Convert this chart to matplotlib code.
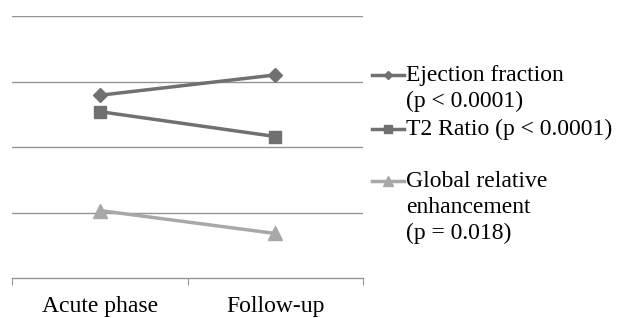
import matplotlib
matplotlib.use("Agg")
import matplotlib.pyplot as plt
from matplotlib.lines import Line2D

categories = ["Acute phase", "Follow-up"]
ef = [2.79, 3.10]
t2 = [2.54, 2.16]
gre = [1.03, 0.68]
labels = ["Ejection fraction\n(p < 0.0001)", "T2 Ratio (p < 0.0001)",
          "Global relative\nenhancement\n(p = 0.018)"]

W, H = 617, 318
plt.rcParams['font.family'] = ['Liberation Serif', 'DejaVu Serif']
fig = plt.figure(figsize=(W / 100, H / 100), dpi=100)
ax = fig.add_axes([12 / W, (H - 278) / H, (363 - 12) / W, (278 - 16) / H])

dark = '#707070'
light = '#a8a8a8'
grid = '#949494'

x = [0.5, 1.5]
ax.plot(x, ef, color=dark, lw=2.5, marker='D', ms=7, zorder=3)
ax.plot(x, t2, color=dark, lw=2.5, marker='s', ms=9, zorder=3)
ax.plot(x, gre, color=light, lw=2.5, marker='^', ms=10, zorder=3)

ax.set_xlim(0, 2)
ax.set_ylim(0, 4)
ax.set_yticks([1, 2, 3, 4])
ax.yaxis.grid(True, color=grid, lw=1.0)
ax.tick_params(axis='y', length=0, labelleft=False)
for s in ['top', 'right', 'left']:
    ax.spines[s].set_visible(False)
ax.spines['bottom'].set_color(grid)
ax.spines['bottom'].set_linewidth(1.0)
ax.set_xticks([0, 1, 2])
ax.set_xticklabels([])
ax.tick_params(axis='x', which='major', length=5, color=grid, direction='out')
ax.set_xticks(x, minor=True)
ax.set_xticklabels(categories, minor=True, fontsize=17)
ax.tick_params(axis='x', which='minor', length=0, pad=13)

# legend drawn manually
def fy(py):
    return 1 - py / H

entries = [(75, dark, 'D', 4.5), (129, dark, 's', 6), (181, light, '^', 6.5)]
for (py, col, mk, ms), lab in zip(entries, labels):
    fig.add_artist(Line2D([372 / W, 404 / W], [fy(py), fy(py)], color=col, lw=2.5,
                          transform=fig.transFigure))
    fig.add_artist(Line2D([388 / W], [fy(py)], color=col, marker=mk, ms=ms,
                          transform=fig.transFigure, lw=0))
    fig.text(406 / W, fy(py - 10), lab, fontsize=17, va='top', ha='left',
             linespacing=1.3)

fig.savefig("out.png", dpi=100)
